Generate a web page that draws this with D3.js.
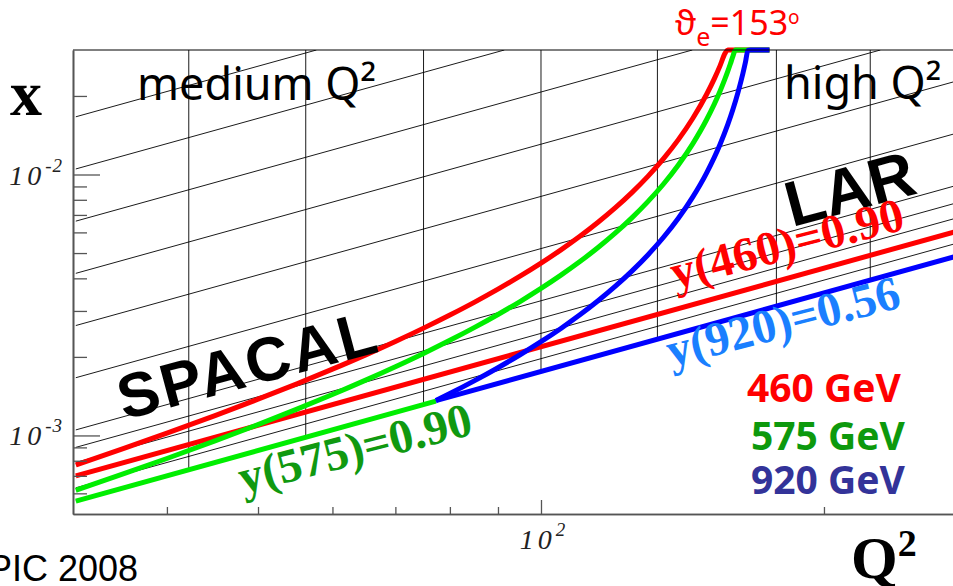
<!DOCTYPE html>
<html>
<head>
<meta charset="utf-8">
<script src="https://cdn.jsdelivr.net/npm/d3@7/dist/d3.min.js"></script>
<style>
  html, body { margin: 0; padding: 0; background: #fff; }
  svg { display: block; }
</style>
</head>
<body>
<svg id="chart" width="953" height="586"></svg>
<script>
// ---- axis ranges and ticks ----
const xRange = [5e-4, 3e-2];          // Bjorken x
const q2Range = [31.78, 300];         // Q^2 (GeV^2)
const q2Start = 32;                   // first Q^2 of every drawn line
const xMajorTicks = [1e-3, 1e-2];
const xMinorTicks = [6e-4, 7e-4, 8e-4, 9e-4, 2e-3, 3e-3, 4e-3, 5e-3, 6e-3, 7e-3, 8e-3, 9e-3, 2e-2];
const q2MajorTicks = [100];
const q2MinorTicks = [40, 50, 60, 70, 80, 90, 200];

// ---- binning grid ----
// lines of constant Q^2/x
const isoLines = [1923, 3047, 4829, 7654, 12131, 19226, 30470, 35549, 40627, 45706, 50784, 56878];
// Q^2 bin edges (vertical lines, down to the lowest y cut)
const q2Edges = [42.2, 56.2, 75, 100, 133, 178, 224];

// ---- beam settings ----
const beamNames = ["460 GeV", "575 GeV", "920 GeV"];
const electronEnergy = 27.6;
const protonEnergy = [460, 575, 920];
const yCut = [0.90, 0.90, 0.56];

// electron angle limit theta_e = 153 deg, (Q^2, x) along the curve
const theta460 = [[32,7.705e-4],[36,8.917e-4],[40,1.020e-3],[45,1.191e-3],[50,1.377e-3],[55,1.577e-3],
  [60,1.795e-3],[65,2.032e-3],[70,2.292e-3],[75,2.578e-3],[80,2.894e-3],[85,3.244e-3],[90,3.636e-3],
  [95,4.076e-3],[100,4.574e-3],[105,5.143e-3],[110,5.798e-3],[115,6.562e-3],[120,7.463e-3],
  [125,8.542e-3],[130,9.858e-3],[135,1.150e-2],[140,1.360e-2],[145,1.639e-2],[150,2.026e-2],
  [153,2.341e-2],[155,2.602e-2],[157,2.919e-2],[158,3.104e-2],[175,1.0]];
const theta575 = [[32,6.164e-4],[36,7.134e-4],[40,8.160e-4],[45,9.531e-4],[50,1.101e-3],[55,1.262e-3],
  [60,1.436e-3],[65,1.626e-3],[70,1.834e-3],[75,2.062e-3],[80,2.315e-3],[85,2.595e-3],[90,2.908e-3],
  [95,3.260e-3],[100,3.659e-3],[105,4.114e-3],[110,4.638e-3],[115,5.249e-3],[120,5.970e-3],
  [125,6.834e-3],[130,7.887e-3],[135,9.198e-3],[140,1.088e-2],[145,1.311e-2],[150,1.621e-2],
  [155,2.081e-2],[157,2.335e-2],[158,2.483e-2],[159,2.650e-2],[160,2.837e-2],[161,3.051e-2],[175,0.8]];
const theta920 = [[77.3,1.360e-3],[80,1.447e-3],[85,1.622e-3],[90,1.818e-3],[95,2.038e-3],
  [100,2.287e-3],[105,2.571e-3],[110,2.899e-3],[115,3.281e-3],[120,3.731e-3],[125,4.271e-3],
  [130,4.929e-3],[135,5.749e-3],[140,6.800e-3],[145,8.193e-3],[150,1.013e-2],[155,1.301e-2],
  [158,1.552e-2],[160,1.773e-2],[162,2.060e-2],[164,2.444e-2],[165,2.691e-2],[166,2.990e-2],
  [167,3.358e-2],[175,0.5]];

const curveColors = ["#ff0000", "#00ee00", "#0000ff"];
const legendColors = ["#ff0000", "#0d990d", "#333399"];

// ---- scales ----
const X = d3.scaleLog().domain(q2Range).range([73, 989.5]);
const Y = d3.scaleLog().domain(xRange).range([514, 50]).clamp(true);

const svg = d3.select("#chart");

svg.append("defs").append("clipPath").attr("id", "frame")
  .append("rect").attr("x", 73).attr("y", 50).attr("width", 917).attr("height", 464);

const plot = svg.append("g").attr("clip-path", "url(#frame)");
const line = d3.line().x(d => X(d[0])).y(d => Y(d[1]));
const smooth = d3.line().x(d => X(d[0])).y(d => Y(d[1])).curve(d3.curveMonotoneX);

// y cut lines: x = Q^2 / (4 Ee Ep y)
const sy = i => 4 * electronEnergy * protonEnergy[i] * yCut[i];
const cutSeg = (i, a, b) => [[a, a / sy(i)], [b, b / sy(i)]];
const blueStart = theta920[0][0];

const colored = svg.append("g").attr("fill", "none").attr("stroke-width", 5).attr("stroke-linecap", "butt");
colored.append("path").attr("d", line(cutSeg(0, q2Start, q2Range[1]))).attr("stroke", curveColors[0]).attr("clip-path", "url(#frame)");
colored.append("path").attr("d", line(cutSeg(1, q2Start, blueStart))).attr("stroke", curveColors[1]);
colored.append("path").attr("d", line(cutSeg(2, blueStart, q2Range[1]))).attr("stroke", curveColors[2]).attr("clip-path", "url(#frame)");
[theta460, theta575, theta920].forEach((c, i) => {
  colored.append("path").attr("d", smooth(c)).attr("stroke", curveColors[i]);
});

// thin black binning grid on top
const grid = plot.append("g").attr("fill", "none").attr("stroke", "#000").attr("stroke-width", 0.9);
isoLines.forEach(k => {
  const qEnd = Math.min(q2Range[1], xRange[1] * k);   // stop where the line leaves the frame top
  grid.append("path").attr("d", line([[q2Start, q2Start / k], [qEnd, qEnd / k]]));
});
const lowCut = isoLines[isoLines.length - 1];
q2Edges.forEach(q => {
  grid.append("line")
    .attr("x1", X(q)).attr("x2", X(q))
    .attr("y1", Y(xRange[1])).attr("y2", Y(q / lowCut));
});

// ---- frame and axes ----
svg.append("line").attr("x1", 73).attr("x2", 990).attr("y1", 50).attr("y2", 50)
  .attr("stroke", "#000").attr("stroke-width", 1);

function styleAxis(g) {
  g.selectAll("path.domain").attr("stroke", "#555").attr("stroke-width", 1.6);
  g.selectAll(".tick line").attr("stroke", "#555").attr("stroke-width", 1.3);
  g.selectAll(".tick text").remove();
}
svg.append("g").attr("transform", "translate(73,0)")
  .call(d3.axisLeft(Y).tickValues(xMinorTicks).tickSizeInner(-14).tickSizeOuter(0).tickFormat(() => ""))
  .call(styleAxis);
svg.append("g").attr("transform", "translate(73,0)")
  .call(d3.axisLeft(Y).tickValues(xMajorTicks).tickSizeInner(-27).tickSizeOuter(0).tickFormat(() => ""))
  .call(styleAxis);
svg.append("g").attr("transform", "translate(0,514)")
  .call(d3.axisBottom(X).tickValues(q2MinorTicks).tickSizeInner(-7).tickSizeOuter(0).tickFormat(() => ""))
  .call(styleAxis);
svg.append("g").attr("transform", "translate(0,514)")
  .call(d3.axisBottom(X).tickValues(q2MajorTicks).tickSizeInner(-14).tickSizeOuter(0).tickFormat(() => ""))
  .call(styleAxis);

// tick labels 10^n
function power(x, y, exp, anchor) {
  const t = svg.append("text").attr("x", x).attr("y", y).attr("text-anchor", anchor)
    .attr("font-family", "Liberation Serif, serif").attr("font-style", "italic").attr("fill", "#222")
    .attr("font-size", 28).attr("letter-spacing", 4);
  t.append("tspan").text("10");
  t.append("tspan").attr("dy", -13).attr("font-size", 19).attr("letter-spacing", 1).text(exp);
}
xMajorTicks.forEach(v => power(63, Y(v) + 10, "-" + Math.round(-Math.log10(v)), "end"));
q2MajorTicks.forEach(v => power(X(v) + 2, 549, String(Math.round(Math.log10(v))), "middle"));

// axis titles
svg.append("text").attr("x", 10).attr("y", 115)
  .attr("font-family", "Liberation Serif, serif").attr("font-weight", "bold").attr("font-size", 64)
  .text("x");
const q2t = svg.append("text").attr("x", 851).attr("y", 578)
  .attr("font-family", "Liberation Serif, serif").attr("font-weight", "bold").attr("font-size", 60);
q2t.append("tspan").text("Q");
q2t.append("tspan").attr("dy", -22).attr("font-size", 38).text("2");

// region labels
const hand = "Noto Sans, DejaVu Sans, sans-serif";
svg.append("text").attr("x", 137).attr("y", 100).attr("font-family", hand).attr("font-size", 45).text("medium Q²");
svg.append("text").attr("x", 784).attr("y", 99).attr("font-family", hand).attr("font-size", 45).text("high Q²");

const th = svg.append("text").attr("x", 675).attr("y", 35).attr("font-family", hand)
  .attr("font-size", 34).attr("fill", "#ff0000");
th.append("tspan").text("ϑ");
th.append("tspan").attr("dy", 11).attr("font-size", 25).text("e");
th.append("tspan").attr("dy", -11).text("=153");
th.append("tspan").attr("dy", -11).attr("font-size", 19).text("o");

svg.append("text").attr("transform", "translate(124,420) rotate(-15)")
  .attr("font-family", "Liberation Sans, Arial, sans-serif").attr("font-weight", "bold")
  .attr("font-size", 62).attr("letter-spacing", 3).text("SPACAL");
svg.append("text").attr("transform", "translate(792,227) rotate(-15)")
  .attr("font-family", "Liberation Sans, Arial, sans-serif").attr("font-weight", "bold")
  .attr("font-size", 64).text("LAR");

// y cut labels
const cutLabelColors = ["#ff0000", "#109910", "#1a7fff"];
const cutLabelPos = [[675, 289], [243, 494], [671, 367]];
protonEnergy.forEach((e, i) => {
  svg.append("text")
    .attr("transform", `translate(${cutLabelPos[i][0]},${cutLabelPos[i][1]}) rotate(-14.5)`)
    .attr("font-family", "Liberation Serif, serif").attr("font-weight", "bold")
    .attr("font-size", 48).attr("fill", cutLabelColors[i])
    .text(`y(${e})=${yCut[i].toFixed(2)}`);
});

// legend
const legendPos = [[747, 402], [751, 450], [751, 494]];
beamNames.forEach((n, i) => {
  svg.append("text").attr("x", legendPos[i][0]).attr("y", legendPos[i][1])
    .attr("font-family", hand).attr("font-weight", "bold").attr("font-size", 39)
    .attr("fill", legendColors[i]).text(n);
});

svg.append("text").attr("x", -12).attr("y", 581)
  .attr("font-family", "Liberation Sans, Arial, sans-serif").attr("font-size", 36)
  .text("PIC 2008");
</script>
</body>
</html>
